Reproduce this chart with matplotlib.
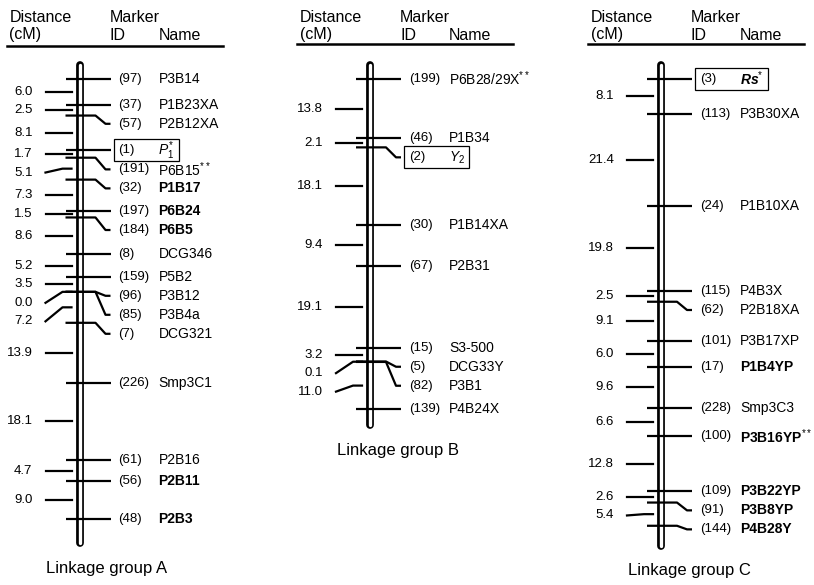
import numpy as np
import matplotlib
matplotlib.use('Agg')
import matplotlib.pyplot as plt
from matplotlib.patches import Rectangle

plt.rcParams['font.family'] = ['Liberation Sans', 'DejaVu Sans']
plt.rcParams['mathtext.fontset'] = 'custom'
plt.rcParams['mathtext.rm'] = 'Liberation Sans'
plt.rcParams['mathtext.it'] = 'Liberation Sans:italic'
plt.rcParams['mathtext.bf'] = 'Liberation Sans:bold'
plt.rcParams['mathtext.bfit'] = 'Liberation Sans:italic:bold'

# --- Linkage group A ---
a_ids = [97, 37, 57, 1, 191, 32, 197, 184, 8, 159, 96, 85, 7, 226, 61, 56, 48]
a_names = ['P3B14', 'P1B23XA', 'P2B12XA', r'$P_1^{*}$', r'P6B15$^{**}$', 'P1B17',
           'P6B24', 'P6B5', 'DCG346', 'P5B2', 'P3B12', 'P3B4a', 'DCG321',
           'Smp3C1', 'P2B16', 'P2B11', 'P2B3']
a_dist = [6.0, 2.5, 8.1, 1.7, 5.1, 7.3, 1.5, 8.6, 5.2, 3.5, 0.0, 7.2, 13.9, 18.1, 4.7, 9.0]
a_bold = ['P1B17', 'P6B24', 'P6B5', 'P2B11', 'P2B3']
a_boxed = [1]

# --- Linkage group B ---
b_ids = [199, 46, 2, 30, 67, 15, 5, 82, 139]
b_names = [r'P6B28/29X$^{**}$', 'P1B34', r'$Y_2$', 'P1B14XA', 'P2B31', 'S3-500',
           'DCG33Y', 'P3B1', 'P4B24X']
b_dist = [13.8, 2.1, 18.1, 9.4, 19.1, 3.2, 0.1, 11.0]
b_bold = []
b_boxed = [2]

# --- Linkage group C ---
c_ids = [3, 113, 24, 115, 62, 101, 17, 228, 100, 109, 91, 144]
c_names = [r'$\mathbfit{Rs}^{*}$', 'P3B30XA', 'P1B10XA', 'P4B3X', 'P2B18XA', 'P3B17XP',
           'P1B4YP', 'Smp3C3', r'P3B16YP$^{**}$', 'P3B22YP', 'P3B8YP', 'P4B28Y']
c_dist = [8.1, 21.4, 19.8, 2.5, 9.1, 6.0, 9.6, 6.6, 12.8, 2.6, 5.4]
c_bold = ['P1B4YP', r'P3B16YP$^{**}$', 'P3B22YP', 'P3B8YP', 'P4B28Y']
c_boxed = [3]

# layout: x in pixels, y in cM (one scale shared by all groups)
W, H = 814, 585
TOP = 79      # pixel row of cM 0
SCALE = 4.3   # pixels per cM


def px(d):
    return d / SCALE


def py(p):
    return (p - TOP) / SCALE


fig = plt.figure(figsize=(W / 100, H / 100), dpi=100)
ax = fig.add_axes([0, 0, 1, 1])
ax.set_xlim(0, W)
ax.set_ylim(py(H), py(0))
ax.axis('off')

LW = 1.6
boxes = []


def draw_group(cx, ids, names, dist, bold, boxed, tail, title, rule_y):
    pos = np.concatenate([[0.0], np.cumsum(dist)])
    lab = pos.copy()
    for i in range(1, len(lab)):
        lab[i] = max(lab[i], lab[i - 1] + px(19))
    mid = (pos[:-1] + pos[1:]) / 2
    dlab = mid.copy()
    for i in range(1, len(dlab)):
        dlab[i] = max(dlab[i], dlab[i - 1] + px(18.5))

    # chromosome bar (double outline, rounded ends)
    y0, y1 = pos[0] - px(14), pos[-1] + tail
    ax.plot([cx, cx], [y0, y1], color='black', lw=5.6, solid_capstyle='round', zorder=1)
    ax.plot([cx, cx], [y0, y1], color='white', lw=2.4, solid_capstyle='round', zorder=2)

    # markers
    for i, (mid_, name) in enumerate(zip(ids, names)):
        m, l = pos[i], lab[i]
        if l - m > 0.3:
            xs = [cx - 14, cx + 16, cx + 26, cx + 31]
            ys = [m, m, l, l]
        else:
            xs = [cx - 14, cx + 31]
            ys = [m, m]
        ax.plot(xs, ys, color='black', lw=LW, zorder=3, solid_capstyle='butt')
        ax.text(cx + 39, l, f'({mid_})', fontsize=9.5, va='center', ha='left')
        t = ax.text(cx + 79, l, name, fontsize=10, va='center', ha='left',
                    fontweight='bold' if name in bold else 'normal')
        if mid_ in boxed:
            boxes.append((cx + 34, l, t))

    # distances
    for d, m, l in zip(dist, mid, dlab):
        if l - m > 0.3:
            xs = [cx - 34, cx - 17, cx - 8]
            ys = [l, m, m]
        else:
            xs = [cx - 34, cx - 8]
            ys = [l, l]
        ax.plot(xs, ys, color='black', lw=LW, zorder=3)
        ax.text(cx - 47, l, f'{d:.1f}', fontsize=9.5, va='center', ha='right')

    # header
    ax.text(cx - 70, py(17), 'Distance', fontsize=11.5, va='center', ha='left')
    ax.text(cx - 70, py(35), '(cM)', fontsize=11.5, va='center', ha='left')
    ax.text(cx + 30, py(17), 'Marker', fontsize=11.5, va='center', ha='left')
    ax.text(cx + 30, py(35), 'ID', fontsize=11.5, va='center', ha='left')
    ax.text(cx + 79, py(35), 'Name', fontsize=11.5, va='center', ha='left')
    ax.plot([cx - 73, cx + 143], [py(rule_y), py(rule_y)], color='black', lw=1.8)

    ax.text(cx - 33, y1 + px(25), title, fontsize=12, va='center', ha='left')


draw_group(79.5, a_ids, a_names, a_dist, a_bold, a_boxed, px(24), 'Linkage group A', 46)
draw_group(370, b_ids, b_names, b_dist, b_bold, b_boxed, px(16), 'Linkage group B', 44)
draw_group(661, c_ids, c_names, c_dist, c_bold, c_boxed, px(20), 'Linkage group C', 44)

# boxes around the mapped phenotype loci
fig.canvas.draw()
inv = ax.transData.inverted()
for x0, l, t in boxes:
    bb = t.get_window_extent()
    x1 = inv.transform((bb.x1, 0))[0] + 4
    ax.add_patch(Rectangle((x0, l - px(11)), x1 - x0, px(22), fill=False,
                           edgecolor='black', lw=0.9, zorder=4))

fig.savefig('out.png', dpi=100, facecolor='white')
